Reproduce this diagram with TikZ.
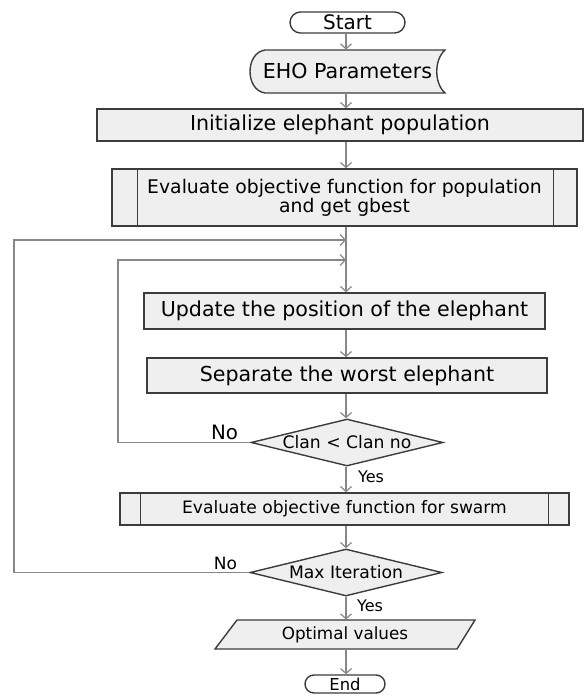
\documentclass[tikz,border=0pt]{standalone}
\usepackage{fontspec}
\setmainfont{DejaVu Sans}
\usetikzlibrary{shapes.geometric,shapes.misc,arrows.meta}
\definecolor{boxfill}{RGB}{239,239,239}
\definecolor{boxline}{RGB}{60,60,60}
\definecolor{flowline}{RGB}{135,135,135}

\begin{document}
\begin{tikzpicture}[x=0.5pt, y=-0.5pt,
  box/.style={draw=boxline, fill=boxfill, line width=0.7pt, inner sep=0pt},
  term/.style={box, fill=white, rounded rectangle},
  decision/.style={box, diamond, shape aspect=4, minimum width=96pt, minimum height=23.5pt},
  flow/.style={draw=flowline, line width=0.6pt, -{Straight Barb[length=2.5pt,width=5.5pt]}},
  lbl/.style={inner sep=0pt, font=\fontsize{8}{9}\selectfont}]
  \useasboundingbox (0,0) rectangle (585,696);
  \coordinate (spine) at (346,0);

  % Start
  \node[term, minimum width=57.5pt, minimum height=10.5pt, font=\fontsize{10}{12}\selectfont] (start) at (347.5,22.5) {Start};

  % EHO Parameters (stored data)
  \draw[box] (265,50) -- (445,50) .. controls (434,60) and (434,83) .. (445,93)
    -- (265,93) .. controls (245,90) and (245,53) .. cycle;
  \node[inner sep=0pt, minimum width=97.5pt, minimum height=21.5pt, font=\fontsize{10.3}{12}\selectfont] (eho) at (347.5,71.5) {EHO Parameters};

  % Initialize
  \node[box, minimum width=243pt, minimum height=16pt, font=\fontsize{10.3}{12}\selectfont] (init) at (340,125) {Initialize elephant population};

  % Evaluate population
  \node[box, minimum width=232.5pt, minimum height=28.5pt, align=center, font=\fontsize{9.4}{9.6}\selectfont] (evalpop) at (344.5,197.5) {Evaluate objective function for population\\and get gbest};
  \draw[boxline, line width=0.7pt] ([xshift=13pt]evalpop.north west) -- ([xshift=13pt]evalpop.south west);
  \draw[boxline, line width=0.7pt] ([xshift=-12pt]evalpop.north east) -- ([xshift=-12pt]evalpop.south east);

  % Update / Separate
  \node[box, minimum width=200.5pt, minimum height=18pt, font=\fontsize{10.3}{12}\selectfont] (update) at (344.5,311) {Update the position of the elephant};
  \node[box, minimum width=200pt, minimum height=17.5pt, font=\fontsize{10.3}{12}\selectfont] (separate) at (347,375.5) {Separate the worst elephant};

  % Clan decision
  \node[decision, font=\fontsize{8.6}{10}\selectfont] (clan) at (347,442.5) {Clan < Clan no};

  % Evaluate swarm
  \node[box, minimum width=224.5pt, minimum height=16pt, font=\fontsize{8.55}{10}\selectfont] (swarm) at (344.5,509) {Evaluate objective function for swarm};
  \draw[boxline, line width=0.7pt] ([xshift=10.5pt]swarm.north west) -- ([xshift=10.5pt]swarm.south west);
  \draw[boxline, line width=0.7pt] ([xshift=-10.5pt]swarm.north east) -- ([xshift=-10.5pt]swarm.south east);

  % Max iteration decision
  \node[decision, font=\fontsize{8.6}{10}\selectfont] (maxit) at (346,572.5) {Max Iteration};

  % Optimal values (data)
  \draw[box] (237,620) -- (475,620) -- (457,649) -- (215,649) -- cycle;
  \node[inner sep=0pt, minimum width=110pt, minimum height=14.5pt, font=\fontsize{8.4}{10}\selectfont] (opt) at (345,634.5) {Optimal values};

  % End
  \node[term, minimum width=40pt, minimum height=9pt, font=\fontsize{8.2}{10}\selectfont] (stop) at (345,684) {End};

  % Main flow
  \foreach \a/\b in {start/eho, eho/init, init/evalpop, evalpop/update, update/separate,
                     separate/clan, clan/swarm, swarm/maxit, maxit/opt, opt/stop}
    \draw[flow] (\a.south -| spine) -- (\b.north -| spine);

  % Loops back
  \coordinate (outer) at (14,240);
  \coordinate (outerin) at (346,240);
  \coordinate (inner) at (118,260);
  \coordinate (innerin) at (346,260);
  \draw[flow] (maxit.west) -| (outer) -- (outerin);
  \draw[flow] (clan.west) -| (inner) -- (innerin);

  % Labels
  \node[lbl, font=\fontsize{9.9}{11}\selectfont] (noclan) at (224.5,432) {No};
  \node[lbl] (yesclan) at (371,477) {Yes};
  \node[lbl, font=\fontsize{8.5}{10}\selectfont] (nomax) at (225.5,563) {No};
  \node[lbl] (yesmax) at (370,606) {Yes};
\end{tikzpicture}
\end{document}
